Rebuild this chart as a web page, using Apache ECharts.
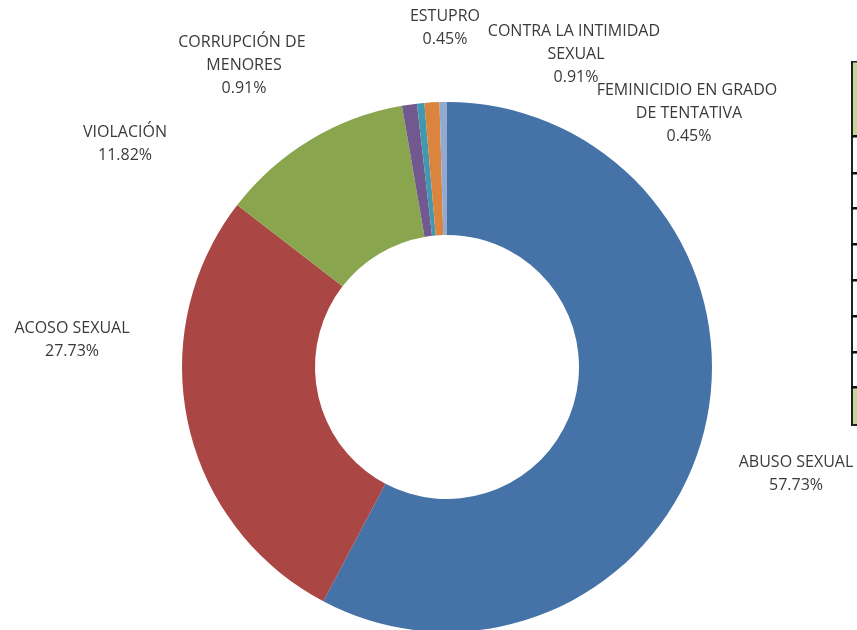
<!DOCTYPE html>
<html>
<head>
<meta charset="utf-8">
<script src="https://cdn.jsdelivr.net/npm/echarts@6/dist/echarts.min.js"></script>
<style>
  html, body { margin: 0; padding: 0; background: #fff; }
  #chart { width: 857px; height: 630px; }
</style>
</head>
<body>
<div id="chart"></div>
<script>
const categories = [
  'ABUSO SEXUAL',
  'ACOSO SEXUAL',
  'VIOLACIÓN',
  'CORRUPCIÓN DE MENORES',
  'ESTUPRO',
  'CONTRA LA INTIMIDAD SEXUAL',
  'FEMINICIDIO EN GRADO DE TENTATIVA'
];
const percents = [57.73, 27.73, 11.82, 0.91, 0.45, 0.91, 0.45];

const colors = ['#4572A7', '#AA4643', '#89A54E', '#71588F', '#4198AF', '#DB843D', '#93A9CF'];
// label centres and wrap widths, as Excel placed them
const labelPos = [[796, 474], [72, 340], [125, 144], [244, 65], [445, 28], [576, 54], [689, 113]];
const labelWidth = [230, 230, 230, 150, 230, 200, 188];

const chart = echarts.init(document.getElementById('chart'));

// fragment of a table cut off at the right edge
const tableLines = [135, 172, 207, 243, 279, 315, 351, 386];
const graphics = [
  { type: 'rect', shape: { x: 853, y: 62, width: 10, height: 73 }, style: { fill: '#C3D69B' } },
  { type: 'rect', shape: { x: 853, y: 387, width: 10, height: 38 }, style: { fill: '#C3D69B' } },
  { type: 'rect', shape: { x: 851, y: 61, width: 2, height: 365 }, style: { fill: '#222' } },
  { type: 'rect', shape: { x: 851, y: 61, width: 10, height: 1.5 }, style: { fill: '#222' } },
  { type: 'rect', shape: { x: 851, y: 424, width: 10, height: 2 }, style: { fill: '#222' } }
];
tableLines.forEach(y => {
  graphics.push({ type: 'rect', shape: { x: 851, y: y, width: 10, height: 2.5 }, style: { fill: '#111' } });
});

chart.setOption({
  animation: false,
  color: colors,
  graphic: graphics,
  series: [{
    type: 'pie',
    center: [447, 367],
    radius: [132, 265],
    startAngle: 90,
    clockwise: true,
    avoidLabelOverlap: false,
    data: categories.map((name, i) => ({
      name: name,
      value: percents[i],
      label: { width: labelWidth[i] }
    })),
    label: {
      show: true,
      position: 'outside',
      formatter: p => p.name + '\n' + p.value.toFixed(2) + '%',
      fontFamily: 'Open Sans',
      fontSize: 16,
      lineHeight: 23,
      color: '#3a3a3a',
      overflow: 'break',
      align: 'center'
    },
    labelLine: { show: false },
    labelLayout: params => ({
      x: labelPos[params.dataIndex][0],
      y: labelPos[params.dataIndex][1],
      align: 'center',
      verticalAlign: 'middle'
    }),
    itemStyle: { borderWidth: 0 },
    emphasis: { disabled: true }
  }]
});
</script>
</body>
</html>
